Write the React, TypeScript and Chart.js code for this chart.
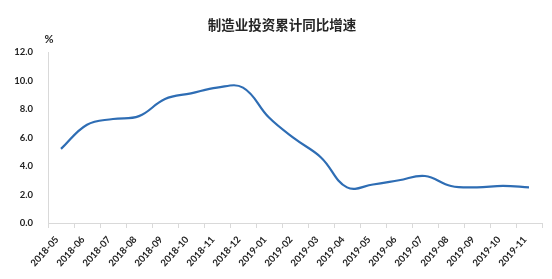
import React, { useEffect, useRef } from "react";
import { Chart, registerables } from "chart.js";

Chart.register(...registerables);

const categories = [
  "2018-05", "2018-06", "2018-07", "2018-08", "2018-09", "2018-10", "2018-11", "2018-12",
  "2019-01", "2019-02", "2019-03", "2019-04", "2019-05", "2019-06", "2019-07", "2019-08",
  "2019-09", "2019-10", "2019-11",
];
const growthValues = [5.2, 6.9, 7.3, 7.5, 8.7, 9.1, 9.5, 9.5, 7.4, 5.9, 4.6, 2.5, 2.7, 3.0, 3.3, 2.6, 2.5, 2.6, 2.5];
const titleText = "制造业投资累计同比增速";
const unitText = "%";
const yMin = 0;
const yMax = 12;
const yStep = 2;

const textPlugin = {
  id: "chartTexts",
  afterDraw(chart: any) {
    const { ctx, chartArea } = chart;
    ctx.save();
    ctx.textAlign = "center";
    ctx.textBaseline = "middle";
    ctx.fillStyle = "#262626";
    ctx.font = "bold 13.5px 'Noto Sans CJK SC', sans-serif";
    ctx.fillText(titleText, 282, 25);
    ctx.fillStyle = "#262626";
    ctx.font = "bold 11px Lato, 'Liberation Sans', sans-serif";
    ctx.fillText(unitText, chartArea.left + 1, 39);
    ctx.restore();
  },
};

export default function App() {
  const ref = useRef<HTMLCanvasElement | null>(null);
  useEffect(() => {
    if (!ref.current) return;
    const chart = new Chart(ref.current, {
      type: "line",
      data: {
        labels: categories,
        datasets: [
          {
            data: growthValues,
            borderColor: "#2e6db4",
            borderWidth: 2.2,
            tension: 0.4,
            pointRadius: 0,
            fill: false,
          },
        ],
      },
      options: {
        responsive: false,
        animation: false,
        devicePixelRatio: 1,
        layout: { padding: { left: 0, right: 10, top: 52, bottom: 0 } },
        plugins: {
          legend: { display: false },
          tooltip: { enabled: false },
          title: { display: false },
        },
        scales: {
          x: {
            offset: true,
            grid: {
              display: true,
              offset: true,
              drawOnChartArea: false,
              drawTicks: true,
              tickLength: 5,
              color: "#d9d9d9",
            },
            border: { display: true, color: "#d9d9d9", width: 1 },
            ticks: {
              autoSkip: false,
              maxRotation: 48,
              minRotation: 48,
              padding: 6,
              labelOffset: -4,
              color: "#222222",
              font: { family: "Lato, 'Liberation Sans', sans-serif", size: 9.5, weight: "bold" },
            },
            afterFit: (scale: any) => {
              scale.height = 56;
            },
          },
          y: {
            min: yMin,
            max: yMax,
            grid: { display: true, drawOnChartArea: false, drawTicks: false, color: "#d9d9d9" },
            border: { display: true, color: "#d9d9d9", width: 1 },
            ticks: {
              stepSize: yStep,
              padding: 15,
              color: "#222222",
              font: { family: "Lato, 'Liberation Sans', sans-serif", size: 9.5, weight: "bold" },
              callback: (v: any) => Number(v).toFixed(1),
            },
            afterFit: (scale: any) => {
              scale.width = 48;
            },
          },
        },
      },
      plugins: [textPlugin],
    });
    return () => chart.destroy();
  }, []);
  return (
    <div style={{ position: "absolute", left: 0, top: 0, width: 552, height: 279, overflow: "hidden", background: "#ffffff" }}>
      <canvas ref={ref} width={552} height={279} style={{ display: "block" }} />
    </div>
  );
}
